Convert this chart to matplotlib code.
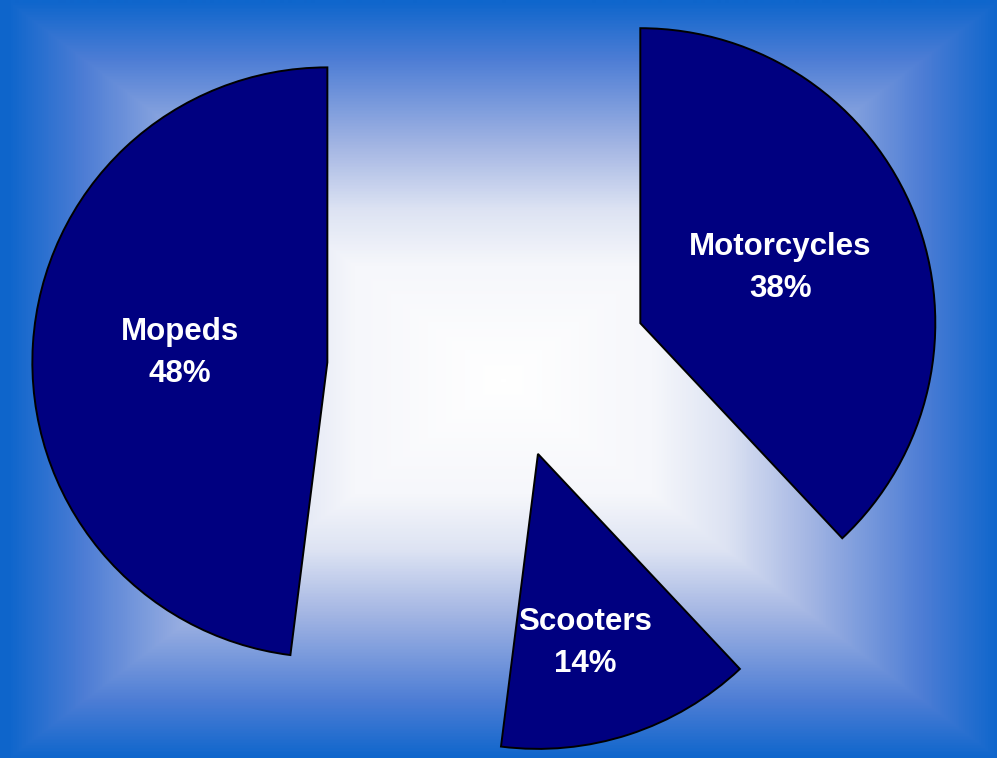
import numpy as np
import matplotlib.pyplot as plt
from matplotlib.colors import LinearSegmentedColormap

plt.rcParams['font.family'] = ['Liberation Sans', 'DejaVu Sans']

# share of two-wheeler types
categories = ['Motorcycles', 'Scooters', 'Mopeds']
shares = [38, 14, 48]

W, H = 997, 758
fig = plt.figure(figsize=(W / 100, H / 100), dpi=100)
ax = fig.add_axes([0, 0, 1, 1])

# rectangular "from centre" gradient behind the pie
gx, gy = 503, H - 380
xx, yy = np.meshgrid(np.arange(W) + 0.5, np.arange(H) + 0.5)
t = np.maximum(np.abs(xx - gx) / (W - gx), np.abs(yy - gy) / gy)
t = np.clip(t, 0, 1)
bg = LinearSegmentedColormap.from_list(
    'bg', [(0.0, '#ffffff'), (0.3, '#f6f7fb'), (0.45, '#dde3f3'),
           (0.62, '#a3b5e3'), (0.85, '#4d7dd5'), (1.0, '#0f66cc')])
ax.imshow(t, cmap=bg, extent=(0, W, 0, H), origin='lower', aspect='auto', zorder=0)

radius = 295
centre = (512, H - 374)
explode = [138, 84, 185]

wedges, _ = ax.pie(shares, explode=explode, radius=radius, center=centre,
                   startangle=90, counterclock=False, colors=['#000080'] * 3,
                   wedgeprops=dict(edgecolor='black', linewidth=1.4), frame=False)

# labels inside each wedge: (fraction of the wedge angle, fraction of the radius)
label_ang = [0.5, 0.58, 0.5]
label_dist = [0.51, 0.66, 0.50]
for w, name, val, a, d in zip(wedges, categories, shares, label_ang, label_dist):
    mid = np.deg2rad(w.theta2 - a * (w.theta2 - w.theta1))
    cx, cy = w.center
    ax.text(cx + d * radius * np.cos(mid), cy + d * radius * np.sin(mid),
            f'{name}\n{val}%', ha='center', va='center', color='white',
            fontsize=22.5, fontweight='bold', linespacing=1.5, zorder=5)

ax.set_xlim(0, W)
ax.set_ylim(0, H)
ax.set_aspect('auto')
ax.axis('off')

fig.savefig('out.png', dpi=100)
